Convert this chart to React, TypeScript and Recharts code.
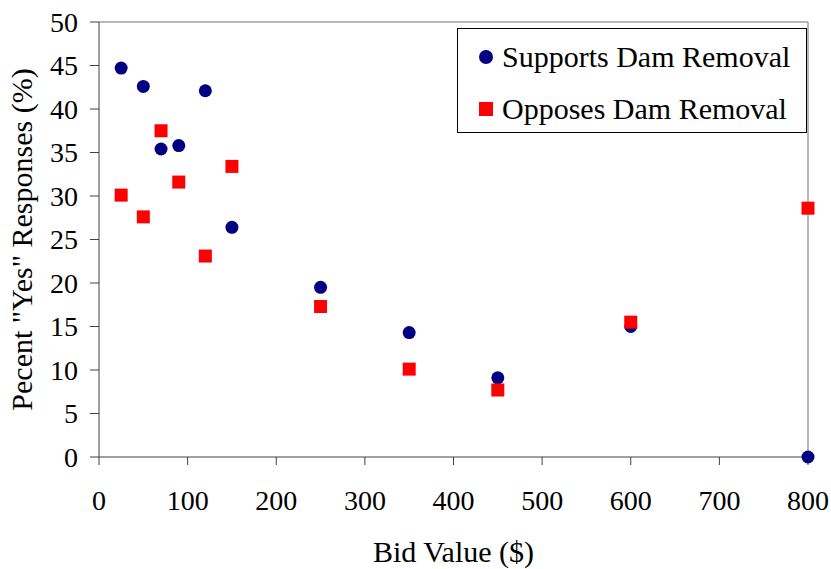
import { Legend, ReferenceLine, Scatter, ScatterChart, XAxis, YAxis } from 'recharts';

// bid amounts asked in the survey ($)
const bidValues = [25, 50, 70, 90, 120, 150, 250, 350, 450, 600, 800];
// percent answering "yes", by group
const supportsYes = [44.7, 42.6, 35.4, 35.8, 42.1, 26.4, 19.5, 14.3, 9.1, 15.0, 0];
const opposesYes = [30.1, 27.6, 37.5, 31.6, 23.1, 33.4, 17.3, 10.1, 7.7, 15.5, 28.6];
const seriesNames = ['Supports Dam Removal', 'Opposes Dam Removal'];

const xTicks = [0, 100, 200, 300, 400, 500, 600, 700, 800];
const yTicks = [0, 5, 10, 15, 20, 25, 30, 35, 40, 45, 50];

const NAVY = '#000080';
const RED = '#ff0000';
const FONT = '"Liberation Serif", "Times New Roman", Tinos, "DejaVu Serif", serif';

const supportsData = bidValues.map((bid, i) => ({ bid, pct: supportsYes[i] }));
const opposesData = bidValues.map((bid, i) => ({ bid, pct: opposesYes[i] }));

const DotShape = (p: any) => <circle cx={p.cx} cy={p.cy} r={6.5} fill={NAVY} />;
const SquareShape = (p: any) => <rect x={p.cx - 6.5} y={p.cy - 6.5} width={13} height={13} fill={RED} />;

function LegendBox({ payload }: any) {
  const rows = [...(payload || [])].sort(
    (a: any, b: any) => seriesNames.indexOf(a.value) - seriesNames.indexOf(b.value)
  );
  return (
    <div
      style={{
        width: 350,
        height: 105,
        boxSizing: 'border-box',
        border: '1px solid #000',
        background: '#fff',
        position: 'relative',
        fontFamily: FONT,
      }}
    >
      {rows.map((entry: any, i: number) => (
        <div
          key={entry.value}
          style={{
            position: 'absolute',
            left: 20,
            top: 8 + i * 52,
            height: 40,
            display: 'flex',
            alignItems: 'center',
            fontSize: 30,
            lineHeight: '40px',
            color: '#000',
            whiteSpace: 'nowrap',
          }}
        >
          <svg width={16} height={16} style={{ marginRight: 8 }}>
            {entry.type === 'circle' ? (
              <circle cx={8} cy={8} r={7} fill={entry.color} />
            ) : (
              <rect x={1} y={1} width={14} height={14} fill={entry.color} />
            )}
          </svg>
          <span>{entry.value}</span>
        </div>
      ))}
    </div>
  );
}

export default function App() {
  return (
    <div style={{ position: 'absolute', left: 0, top: 0, fontFamily: FONT, background: '#fff' }}>
      <ScatterChart
        width={831}
        height={569}
        margin={{ top: 22, right: 23, bottom: 0, left: 0 }}
        style={{ fontFamily: FONT }}
      >
        <XAxis
          type="number"
          dataKey="bid"
          domain={[0, 800]}
          ticks={xTicks}
          interval={0}
          height={112}
          tickSize={8}
          tickMargin={25}
          stroke="#404040"
          tick={{ fill: '#000', fontSize: 28, fontFamily: FONT }}
          label={{
            value: 'Bid Value ($)',
            position: 'insideBottom',
            offset: 7,
            style: { fontSize: 30, fill: '#000', fontFamily: FONT },
          }}
        />
        <YAxis
          type="number"
          dataKey="pct"
          domain={[0, 50]}
          ticks={yTicks}
          interval={0}
          width={99}
          tickSize={9}
          tickMargin={12}
          stroke="#404040"
          tick={{ fill: '#000', fontSize: 28, fontFamily: FONT }}
          label={{
            value: 'Pecent "Yes" Responses (%)',
            angle: -90,
            position: 'insideLeft',
            offset: 21,
            style: { textAnchor: 'middle', fontSize: 30, fill: '#000', fontFamily: FONT },
          }}
        />
        <ReferenceLine y={50} stroke="#a0a0a0" strokeWidth={1.5} />
        <ReferenceLine x={800} stroke="#a0a0a0" strokeWidth={1.5} />
        <Scatter
          name={seriesNames[0]}
          data={supportsData}
          fill={NAVY}
          legendType="circle"
          shape={DotShape}
          isAnimationActive={false}
        />
        <Scatter
          name={seriesNames[1]}
          data={opposesData}
          fill={RED}
          legendType="square"
          shape={SquareShape}
          isAnimationActive={false}
        />
        <Legend
          layout="horizontal"
          verticalAlign="middle"
          align="center"
          content={LegendBox}
          wrapperStyle={{ position: 'absolute', left: 457, top: 28, width: 350, height: 105 }}
        />
      </ScatterChart>
    </div>
  );
}
